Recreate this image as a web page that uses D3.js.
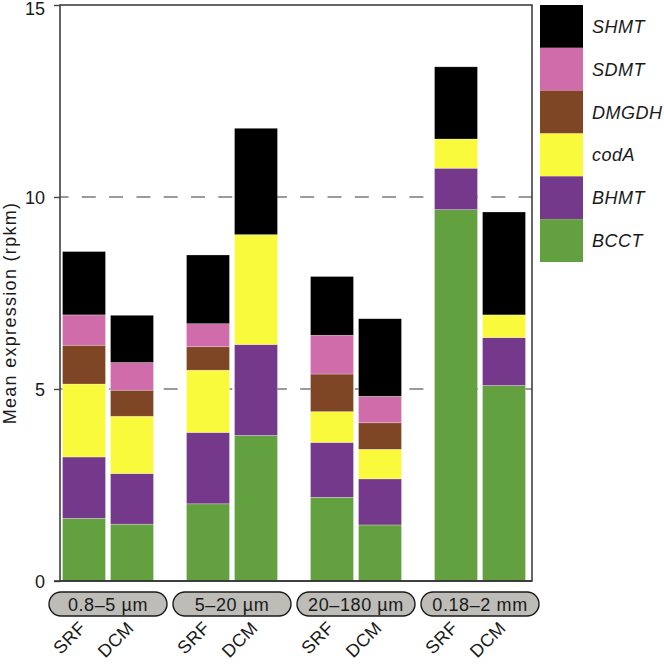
<!DOCTYPE html>
<html>
<head>
<meta charset="utf-8">
<script src="https://cdn.jsdelivr.net/npm/d3@7"></script>
<style>
  html, body { margin: 0; padding: 0; background: #fff; }
  svg { display: block; }
  text { font-family: "Liberation Sans", Arial, Helvetica, sans-serif; fill: #1a1a1a; }
</style>
</head>
<body>
<svg id="chart" width="664" height="664"></svg>
<script>
// ---- data ----
const groups = ["0.8–5 µm", "5–20 µm", "20–180 µm", "0.18–2 mm"];
const depths = ["SRF", "DCM"];
const genes = ["BCCT", "BHMT", "codA", "DMGDH", "SDMT", "SHMT"]; // bottom to top
const geneColors = ["#63a040", "#74398b", "#fafa3c", "#7e4625", "#cf6ca9", "#000000"];
// values per bar, order: group1 SRF, group1 DCM, group2 SRF, ...
const BCCT  = [1.63, 1.48, 2.01, 3.79, 2.18, 1.46, 9.67, 5.09];
const BHMT  = [1.60, 1.32, 1.86, 2.37, 1.43, 1.20, 1.08, 1.25];
const codA  = [1.90, 1.49, 1.62, 2.86, 0.80, 0.77, 0.76, 0.59];
const DMGDH = [1.01, 0.68, 0.61, 0.00, 0.98, 0.69, 0.00, 0.00];
const SDMT  = [0.79, 0.72, 0.60, 0.00, 1.01, 0.69, 0.00, 0.00];
const SHMT  = [1.65, 1.23, 1.79, 2.77, 1.53, 2.02, 1.88, 2.68];
const yTicks = [0, 5, 10, 15];
const gridValues = [5, 10];
const yLabel = "Mean expression (rpkm)";

const seriesValues = { BCCT, BHMT, codA, DMGDH, SDMT, SHMT };

// table
const rows = [];
groups.forEach((g, gi) => depths.forEach((d, di) => {
  const idx = gi * depths.length + di;
  const row = { group: g, depth: d };
  genes.forEach(k => row[k] = seriesValues[k][idx]);
  rows.push(row);
}));

const svg = d3.select("#chart");
const pLeft = 60, pRight = 532, pTop = 5, pBottom = 581;

const y = d3.scaleLinear().domain([0, 15]).range([pBottom, pTop]);
const xg = d3.scaleBand().domain(groups).range([46, 542]);
const xi = d3.scaleBand().domain(depths).range([-45.5, 45.5]).paddingInner(0.104);
const color = d3.scaleOrdinal().domain(genes).range(geneColors);
const barCenter = d => xg(d.group) + xg.bandwidth() / 2 + xi(d.depth) + xi.bandwidth() / 2;

// dashed grid
svg.append("g").selectAll("line").data(gridValues).join("line")
  .attr("x1", pLeft).attr("x2", pRight)
  .attr("y1", d => y(d)).attr("y2", d => y(d))
  .attr("stroke", "#7a7a7a").attr("stroke-width", 1.4)
  .attr("stroke-dasharray", "14,13.3").attr("stroke-dashoffset", 5.5);

// stacked bars
const stack = d3.stack().keys(genes)(rows);
const barsG = svg.append("g");
stack.forEach(layer => {
  barsG.append("g").attr("fill", color(layer.key))
    .selectAll("rect").data(layer.filter(s => s[1] - s[0] > 0)).join("rect")
    .attr("x", s => xg(s.data.group) + xg.bandwidth() / 2 + xi(s.data.depth))
    .attr("width", xi.bandwidth())
    .attr("y", s => y(s[1]))
    .attr("height", s => y(s[0]) - y(s[1]))
    .attr("stroke", "rgba(255,255,255,0.45)")
    .attr("stroke-width", 0.6);
});

// frame
svg.append("rect").attr("x", pLeft).attr("y", pTop)
  .attr("width", pRight - pLeft).attr("height", pBottom - pTop)
  .attr("fill", "none").attr("stroke", "#333").attr("stroke-width", 1.5);

// y axis
const yAxis = svg.append("g").attr("transform", `translate(${pLeft},0)`)
  .call(d3.axisLeft(y).tickValues(yTicks).tickSize(6).tickPadding(9).tickFormat(d3.format("d")));
yAxis.select(".domain").remove();
yAxis.selectAll(".tick line").attr("stroke", "#444").attr("stroke-width", 1.4);
yAxis.selectAll(".tick text").style("font-size", "18px").attr("fill", "#1a1a1a")
  .attr("dy", d => d === 15 ? "0.5em" : "0.34em")
  .style("font-family", "Liberation Sans, Arial, sans-serif");
// base line extends to tick
svg.append("line").attr("x1", pLeft - 6).attr("x2", pRight)
  .attr("y1", y(0)).attr("y2", y(0)).attr("stroke", "#333").attr("stroke-width", 1.5);

// y label
svg.append("text")
  .attr("transform", `translate(16,${(pTop + pBottom) / 2 + 20}) rotate(-90)`)
  .attr("text-anchor", "middle")
  .style("font-size", "18px").style("letter-spacing", "1.3px")
  .text(yLabel);

// group pills
const pills = svg.append("g").selectAll("g").data(groups).join("g")
  .attr("transform", d => `translate(${xg(d) + xg.bandwidth() / 2},0)`);
pills.append("rect").attr("x", -59).attr("y", 592).attr("width", 118).attr("height", 24)
  .attr("rx", 12).attr("ry", 12)
  .attr("fill", "#bdbcb7").attr("stroke", "#1a1a1a").attr("stroke-width", 1.4);
pills.append("text").attr("x", 0).attr("y", 611).attr("text-anchor", "middle")
  .style("font-size", "18px").style("letter-spacing", "0.6px").text(d => d);

// depth labels rotated
const dl = svg.append("g").selectAll("g").data(rows).join("g")
  .attr("transform", d => "translate(" + (barCenter(d) + 3) + ",629)");
dl.append("text")
  .attr("transform", "rotate(-45)")
  .attr("text-anchor", "end")
  .style("font-size", "18px").style("letter-spacing", "0.4px")
  .text(d => d.depth);

// legend
const ly = d3.scaleBand().domain(genes.slice().reverse()).range([5, 262]);
const leg = svg.append("g").selectAll("g").data(genes.slice().reverse()).join("g")
  .attr("transform", d => `translate(540,${ly(d)})`);
leg.append("rect").attr("width", 43).attr("height", ly.bandwidth()).attr("fill", d => color(d));
leg.append("text").attr("x", 52).attr("y", ly.bandwidth() / 2).attr("dy", "0.36em")
  .style("font-size", "18px").style("font-style", "italic").style("letter-spacing", "0.5px")
  .text(d => d);
</script>
</body>
</html>
